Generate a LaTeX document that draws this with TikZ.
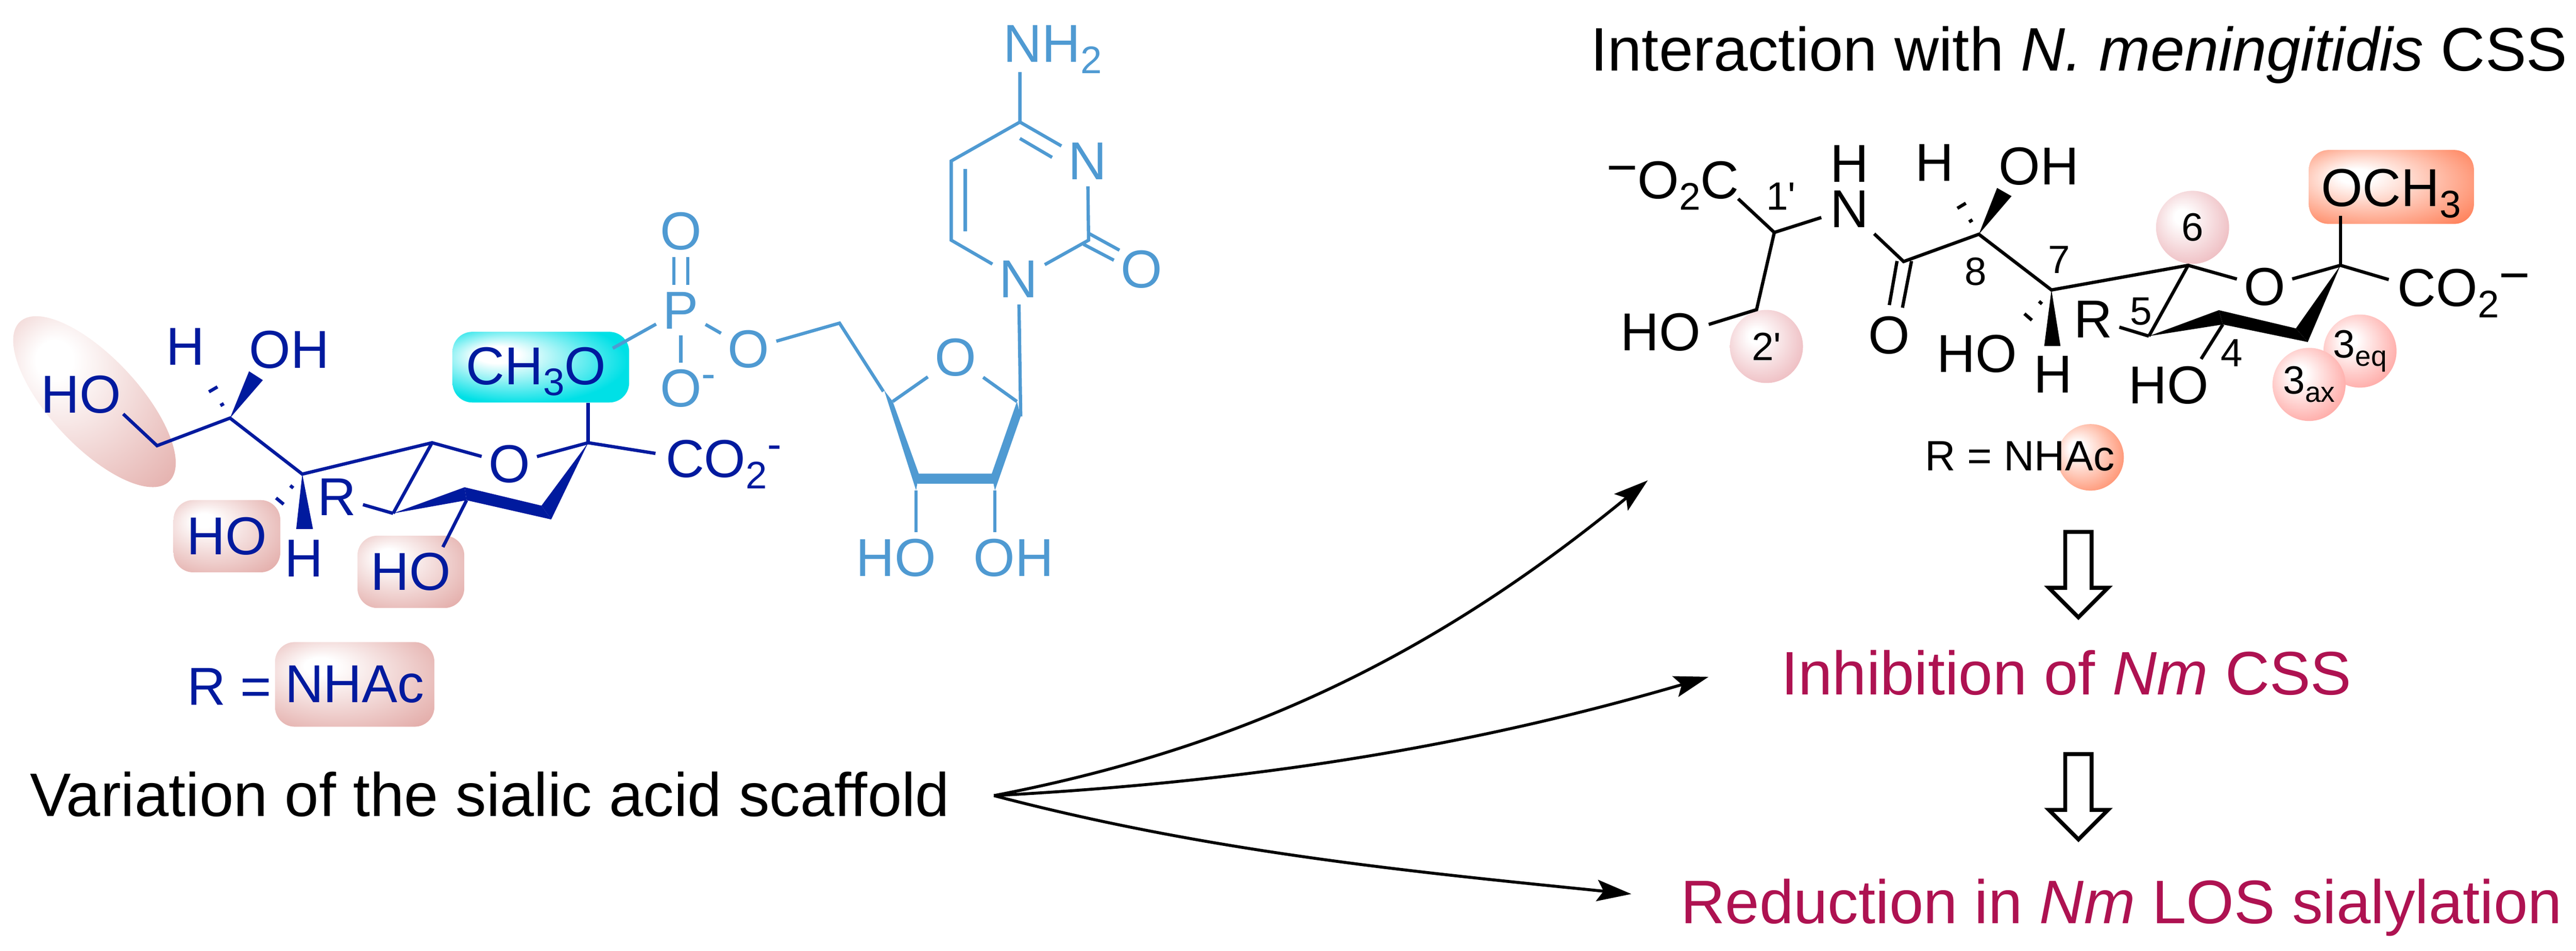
\documentclass[tikz,border=0pt]{standalone}
\usepackage{fontspec}
\setmainfont{Liberation Sans}[Ligatures=TeXOff]
\usepackage{xcolor}
\usetikzlibrary{shapes.geometric, shapes.arrows, arrows.meta, calc}

\definecolor{siablue}{HTML}{001A9E}
\definecolor{cmpblue}{HTML}{4F9AD2}
\definecolor{resultred}{HTML}{AE1251}
\definecolor{hotpink}{HTML}{DD9A96}
\definecolor{hotcyan}{HTML}{00E0E6}
\definecolor{hotorange}{HTML}{FF6A3C}
\definecolor{softpink}{HTML}{E8A5AB}
\definecolor{softred}{HTML}{FF8A85}

\pgfdeclareradialshading{pinkglow}{\pgfpoint{-12bp}{12bp}}{color(0bp)=(white); color(5bp)=(white); color(44bp)=(hotpink); color(50bp)=(hotpink)}
\pgfdeclareradialshading{cyanglow}{\pgfpoint{-14bp}{10bp}}{color(0bp)=(white); color(6bp)=(white); color(30bp)=(hotcyan); color(50bp)=(hotcyan)}
\pgfdeclareradialshading{orangeglow}{\pgfpoint{-12bp}{8bp}}{color(0bp)=(white); color(5bp)=(white); color(42bp)=(hotorange); color(50bp)=(hotorange)}
\pgfdeclareradialshading{softglow}{\pgfpoint{-8bp}{8bp}}{color(0bp)=(white); color(5bp)=(white); color(40bp)=(softpink); color(50bp)=(softpink)}
\pgfdeclareradialshading{redglow}{\pgfpoint{-8bp}{8bp}}{color(0bp)=(white); color(5bp)=(white); color(40bp)=(softred); color(50bp)=(softred)}

\newcommand{\lowidx}[1]{\raisebox{-0.21em}{\scalebox{0.72}{#1}}}
\newcommand{\hibar}{\raisebox{0.35em}{\scalebox{0.8}{-}}}
\newcommand{\himinus}{\raisebox{0.24em}{−}}
\newcommand{\hashbond}[2]{%
  \foreach \t/\w in {0.31/1.2, 0.66/3, 1/4.8} {
    \coordinate (hashpt) at ($(#1)!\t!(#2)$);
    \draw[bond] ($(hashpt)!\w pt!90:(#2)$) -- ($(hashpt)!\w pt!-90:(#2)$);
  }%
}

\begin{document}
\begin{tikzpicture}[
    x=1pt, y=-1pt,
    sugar/.style={color=siablue},
    cmp/.style={color=cmpblue},
    result/.style={color=resultred},
    atom/.style={font=\fontsize{32.5}{36}\selectfont, inner sep=4pt},
    atomtext/.style={font=\fontsize{32.5}{36}\selectfont, inner sep=0pt, anchor=base west},
    numlabel/.style={font=\fontsize{24}{28}\selectfont, inner sep=0pt},
    caption/.style={font=\fontsize{37.4}{44}\selectfont, inner sep=0pt, anchor=base west},
    bond/.style={line width=2pt},
    glowbox/.style={rectangle, rounded corners=12pt, inner sep=0pt, shade, font=\fontsize{32.5}{36}\selectfont},
    hobox/.style={glowbox, shading=pinkglow, minimum width=65pt, minimum height=44pt},
    glowball/.style={circle, inner sep=0pt, minimum size=44.5pt, shade, font=\fontsize{24}{28}\selectfont},
    blockarrow/.style={single arrow, draw=black, fill=white, line width=2.4pt, inner sep=6.8pt, minimum height=52pt, single arrow head extend=10pt, single arrow tip angle=90, rotate=-90},
    curvearrow/.style={-{Stealth[length=21pt, width=13pt, inset=4pt]}, line width=1.8pt}
]
\useasboundingbox (0,0) rectangle (1568,578.9);

% Left residue: highlights
\begin{scope}[sugar]
\node[ellipse, shade, shading=pinkglow, minimum width=133pt, minimum height=54pt, inner sep=0pt, rotate=-47] (hoglow) at (57.5,244.5) {};
\node[hobox] (hoboxA) at (138.1,326.4) {HO};
\node[hobox] (hoboxB) at (250.1,348.1) {HO};
\node[glowbox, shading=cyanglow, minimum width=107.5pt, minimum height=43pt] (omebox) at (329.2,223.5) {};
\node[hobox, minimum width=97pt, minimum height=51.5pt] (acbox) at (215.9,416.6) {NHAc};

% Left residue: atoms
\node[atom] (hoA) at (49.4,240) {HO};
\node[atom] (hA) at (113,211) {H};
\node[atom] (ohA) at (176,213) {OH};
\node[atom] (hB) at (185,340) {H};
\node[atom] (rA) at (205,302.6) {R};
\node[atom] (oRing) at (310,282.5) {O};
\node[atomtext] (ome) at (283.5,234) {CH\lowidx{3}O};
\node[atomtext] (carbA) at (405,290.5) {CO\lowidx{2}\hibar};
\node[atomtext] (req) at (113.7,429) {R =};

% Left residue: vertices
\coordinate (hoEnd) at (75,252);
\coordinate (c9) at (95.6,271.3);
\coordinate (c8) at (140,254.5);
\coordinate (c8w) at (151.6,226);
\coordinate (c8x) at (160,231.4);
\coordinate (c8h) at (124.5,228);
\coordinate (c7) at (184,288.6);
\coordinate (c7h) at (163.3,313.5);
\coordinate (c7w) at (180.3,322);
\coordinate (c7x) at (190.5,322);
\coordinate (c6) at (263,269.5);
\coordinate (c5) at (239.3,312.5);
\coordinate (c4) at (282.8,296.6);
\coordinate (c4b) at (284,304.5);
\coordinate (c4o) at (269.6,333);
\coordinate (c3) at (329.6,307.8);
\coordinate (c3b) at (335.5,316.2);
\coordinate (c2) at (358,269.5);
\coordinate (carbEnd) at (399,276);

% Left residue: bonds
\draw[bond] (hoEnd) -- (c9) -- (c8) -- (c7) -- (c6) -- (oRing);
\draw[bond] (c6) -- (c5);
\draw[bond] (rA) -- (c5);
\draw[bond] (oRing) -- (c2) -- (carbEnd);
\draw[bond] (c2) -- (c2 |- omebox.south);
\draw[bond] (c4b) -- (c4o);
\fill (c8) -- (c8w) -- (c8x) -- cycle;
\fill (c7) -- (c7w) -- (c7x) -- cycle;
\fill (c2) -- (c3) -- (c3b) -- cycle;
\fill (c3) -- (c3b) -- (c4b) -- (c4) -- cycle;
\fill (c4) -- (c4b) -- (c5) -- cycle;
\hashbond{c8}{c8h}
\hashbond{c7}{c7h}
\end{scope}

% Nucleotide part
\begin{scope}[cmp]
\node[atom] (pA) at (414.4,188.9) {P};
\node[atom] (oP) at (414.4,140.9) {O};
\node[atom] (oMinus) at (414.4,236.4) {O\rlap{\hibar}};
\node[atom] (oEster) at (455.7,212.5) {O};
\node[atom] (oRibose) at (581.6,217.6) {O};
\node[atom] (hoR) at (545.5,339.5) {HO};
\node[atom] (ohR) at (617,339.5) {OH};
\node[atom] (nOne) at (620,170) {N};
\node[atom] (nThree) at (662,98) {N};
\node[atom] (oKeto) at (695,163.8) {O};
\node[atomtext] (amine) at (610.5,37.8) {NH\lowidx{2}};

\coordinate (omeEnd) at (373,212);
\coordinate (c5r) at (511,196.7);
\coordinate (c5rb) at (537.7,238.3);
\coordinate (c4r) at (543.4,244.4);
\coordinate (c4rb) at (538.2,237.6);
\coordinate (c3ra) at (559.4,288.8);
\coordinate (c3rb) at (557.6,298.5);
\coordinate (c2ra) at (603.5,288.8);
\coordinate (c2rb) at (605.6,298.5);
\coordinate (c1r) at (619,244.4);
\coordinate (c1rb) at (621.3,253.5);
\coordinate (barA) at (558.4,288.3);
\coordinate (barB) at (604,288.3);
\coordinate (barC) at (605,294.4);
\coordinate (barD) at (558.4,294.4);
\coordinate (c4c) at (620.8,74.3);
\coordinate (c5c) at (579,98);
\coordinate (c6c) at (579,146.2);
\coordinate (c2c) at (662.6,146.2);
\coordinate (aminEnd) at (620.8,43.9);
\coordinate (dblAa) at (620.8,84.3);
\coordinate (dblAb) at (640.4,95.8);
\coordinate (dblBa) at (587.5,103);
\coordinate (dblBb) at (587.5,140.9);
\coordinate (dblCa) at (659.5,148.7);
\coordinate (dblCb) at (678,158.4);
\coordinate (dblDa) at (662.6,142);
\coordinate (dblDb) at (681.4,152.3);

\draw[bond] (pA) -- (omeEnd);
\draw[bond] ([xshift=-4.2pt]pA.north) -- ([xshift=-4.2pt]oP.south);
\draw[bond] ([xshift=4.2pt]pA.north) -- ([xshift=4.2pt]oP.south);
\draw[bond] (pA) -- (oMinus);
\draw[bond] (pA) -- (oEster);
\draw[bond] (oEster) -- (c5r) -- (c5rb);
\draw[bond] (c4r) -- (oRibose);
\draw[bond] (oRibose) -- (c1r);
\draw[bond] (nOne) -- (c1rb);
\draw[bond] (c3rb) -- (c3rb |- hoR.north);
\draw[bond] (c2rb) -- (c2rb |- ohR.north);
\fill (c4rb) -- (c4r) -- (c3ra) -- (c3rb) -- cycle;
\fill (barA) -- (barB) -- (barC) -- (barD) -- cycle;
\fill (c1r) -- (c1rb) -- (c2rb) -- (c2ra) -- cycle;
\draw[bond] (aminEnd) -- (c4c) -- (nThree);
\draw[bond] (c4c) -- (c5c) -- (c6c) -- (nOne);
\draw[bond] (nOne) -- (c2c) -- (nThree);
\draw[bond] (dblAa) -- (dblAb);
\draw[bond] (dblBa) -- (dblBb);
\draw[bond] (dblCa) -- (dblCb);
\draw[bond] (dblDa) -- (dblDb);
\end{scope}

% Right compound: highlights
\node[glowbox, shading=orangeglow, minimum width=100.5pt, minimum height=45pt] (methbox) at (1455.6,113.8) {};
\node[glowball, shading=softglow] (ballTwo) at (1075.2,210.9) {2'};
\node[glowball, shading=softglow] (ballSix) at (1334.6,138.4) {6};
\node[glowball, shading=redglow] (ballEq) at (1436.5,213.7) {3\lowidx{eq}};
\node[glowball, shading=redglow] (ballAx) at (1405.5,234) {3\lowidx{ax}};
\node[circle, shade, shading=orangeglow, minimum size=40.5pt, inner sep=0pt] (ballAc) at (1272.5,278.4) {};

% Right compound: atoms
\node[atomtext] (carbL) at (977.6,121) {\himinus O\lowidx{2}C};
\node[atom, align=center, font=\fontsize{32.5}{27.6}\selectfont] (amideNH) at (1125.7,113.5) {H\\N};
\node[atom] (hoL) at (1010.7,202.2) {HO};
\node[atom] (oAmide) at (1150,204) {O};
\node[atom] (hC) at (1177.4,99) {H};
\node[atom] (ohC) at (1241.1,101.3) {OH};
\node[atom] (hoC) at (1203.3,215.3) {HO};
\node[atom] (hD) at (1249.5,228) {H};
\node[atom] (rB) at (1274.1,194.3) {R};
\node[atom] (oRingB) at (1378.4,174.6) {O};
\node[atom] (hoD) at (1320,234.6) {HO};
\node[atomtext] (meth) at (1412.6,125.7) {OCH\lowidx{3}};
\node[atomtext] (carbR) at (1459.2,186.5) {CO\lowidx{2}\himinus};
\node[font=\fontsize{25.8}{30}\selectfont, inner sep=0pt, anchor=base west] (reqB) at (1171.5,286.6) {R = NHAc};

% Right compound: numbers
\node[numlabel] (numOne) at (1084,119.4) {1'};
\node[numlabel] (numEight) at (1202.5,165.2) {8};
\node[numlabel] (numSeven) at (1253.4,158) {7};
\node[numlabel] (numFive) at (1303.2,189.6) {5};
\node[numlabel] (numFour) at (1358.5,214.8) {4};

% Right compound: vertices
\coordinate (carbLEnd) at (1058,121);
\coordinate (g1) at (1080,141.5);
\coordinate (g2) at (1069.2,188.5);
\coordinate (hoLEnd) at (1040.1,197.5);
\coordinate (amideL) at (1108.6,132.4);
\coordinate (amideR) at (1140.8,142.3);
\coordinate (amC) at (1158.7,159.2);
\coordinate (dblEa) at (1154.7,158.9);
\coordinate (dblEb) at (1150,185.7);
\coordinate (dblFa) at (1163.5,158.9);
\coordinate (dblFb) at (1158,187.3);
\coordinate (d8) at (1204.5,142.6);
\coordinate (d8w) at (1215.6,114.4);
\coordinate (d8x) at (1224.4,119.4);
\coordinate (d8h) at (1188.6,116.3);
\coordinate (d7) at (1248.7,176.5);
\coordinate (d7h) at (1227.2,201.4);
\coordinate (d7w) at (1244.3,210.6);
\coordinate (d7x) at (1254.2,210.6);
\coordinate (d6) at (1331.9,161.5);
\coordinate (d5) at (1308,204.6);
\coordinate (d4) at (1350.6,188.8);
\coordinate (d4b) at (1353,197.5);
\coordinate (d4o) at (1339.8,218.5);
\coordinate (d3) at (1397.5,199.9);
\coordinate (d3b) at (1404.7,208.2);
\coordinate (d2) at (1424.6,161.5);
\coordinate (methEnd) at (1424.6,131.3);
\coordinate (carbREnd) at (1454,170.2);

% Right compound: bonds
\draw[bond] (carbLEnd) -- (g1) -- (amideL);
\draw[bond] (g1) -- (g2) -- (hoLEnd);
\draw[bond] (amideR) -- (amC) -- (d8) -- (d7) -- (d6) -- (oRingB);
\draw[bond] (dblEa) -- (dblEb);
\draw[bond] (dblFa) -- (dblFb);
\draw[bond] (d6) -- (d5);
\draw[bond] (rB) -- (d5);
\draw[bond] (oRingB) -- (d2) -- (carbREnd);
\draw[bond] (d2) -- (methEnd);
\draw[bond] (d4b) -- (d4o);
\fill (d8) -- (d8w) -- (d8x) -- cycle;
\fill (d7) -- (d7w) -- (d7x) -- cycle;
\fill (d2) -- (d3) -- (d3b) -- cycle;
\fill (d3) -- (d3b) -- (d4b) -- (d4) -- cycle;
\fill (d4) -- (d4b) -- (d5) -- cycle;
\hashbond{d8}{d8h}
\hashbond{d7}{d7h}

% Captions
\node[caption] (variation) at (18,497) {Variation of the sialic acid scaffold};
\node[caption] (interaction) at (968,43) {Interaction with \textit{N. meningitidis} CSS};
\node[caption, result] (inhibition) at (1084,422.8) {Inhibition of \textit{Nm} CSS};
\node[caption, result] (reduction) at (1023,562.2) {Reduction in \textit{Nm} LOS sialylation};

% Block arrows
\node[blockarrow] (blockA) at (1265.1,345.8) {};
\node[blockarrow] (blockB) at (1265.1,481) {};

% Curved arrows
\coordinate (fork) at (605,484.3);
\coordinate (tipA) at (1003,292.4);
\coordinate (tipB) at (1040,412);
\coordinate (tipC) at (993,544.2);
\draw[curvearrow] (fork) .. controls (757,455) and (873,399) .. (tipA);
\draw[curvearrow] (fork) .. controls (780,475) and (910,450) .. (tipB);
\draw[curvearrow] (fork) .. controls (737,519) and (863,531) .. (tipC);

\end{tikzpicture}
\end{document}
